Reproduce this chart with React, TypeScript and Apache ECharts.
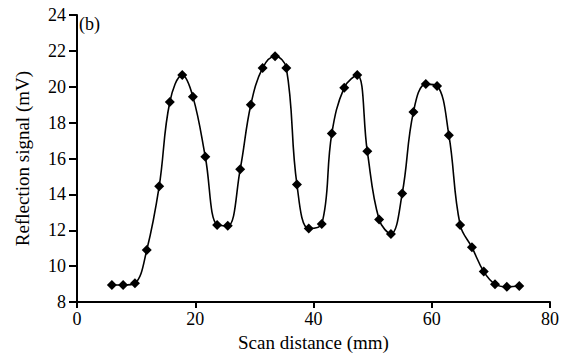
import React, { useEffect, useRef } from "react";
import * as echarts from "echarts";

const scanDistance = [5.9, 7.8, 9.8, 11.8, 13.9, 15.7, 17.8, 19.6, 21.7, 23.7, 25.5, 27.6, 29.4, 31.4, 33.5, 35.4, 37.2, 39.2, 41.4, 43.1, 45.2, 47.4, 49.1, 51.1, 53.1, 55.0, 56.9, 59.0, 60.9, 62.9, 64.8, 66.8, 68.8, 70.7, 72.7, 74.8];
const reflection = [8.95, 8.95, 9.05, 10.9, 14.45, 19.15, 20.65, 19.45, 16.1, 12.3, 12.25, 15.4, 19.0, 21.05, 21.7, 21.05, 14.55, 12.1, 12.35, 17.4, 19.95, 20.65, 16.4, 12.6, 11.8, 14.05, 18.6, 20.15, 20.05, 17.3, 12.3, 11.05, 9.7, 9.0, 8.85, 8.9];

const FONT = "'Liberation Serif', 'DejaVu Serif', serif";

export default function App() {
  const ref = useRef<HTMLDivElement>(null);
  useEffect(() => {
    if (!ref.current) return;
    const chart = echarts.init(ref.current, null, { renderer: "svg" });
    chart.setOption({
      animation: false,
      backgroundColor: "#fff",
      textStyle: { fontFamily: FONT, color: "#000" },
      grid: { left: 77, right: 15, top: 15, bottom: 53 },
      graphic: [
        { type: "text", left: 79, top: 15, style: { text: "(b)", fontFamily: FONT, fontSize: 18, fill: "#000" } },
      ],
      xAxis: {
        type: "value",
        min: 0,
        max: 80,
        interval: 20,
        name: "Scan distance (mm)",
        nameLocation: "middle",
        nameGap: 29,
        nameTextStyle: { fontFamily: FONT, fontSize: 19, color: "#000" },
        axisLine: { show: true, lineStyle: { color: "#000", width: 2 } },
        axisTick: { show: true, length: 6, lineStyle: { color: "#000", width: 2 } },
        axisLabel: { fontFamily: FONT, fontSize: 18, color: "#000", margin: 8 },
        splitLine: { show: false },
      },
      yAxis: {
        type: "value",
        min: 8,
        max: 24,
        interval: 2,
        name: "Reflection signal (mV)",
        nameLocation: "middle",
        nameGap: 45,
        nameTextStyle: { fontFamily: FONT, fontSize: 19, color: "#000" },
        axisLine: { show: true, lineStyle: { color: "#000", width: 2 } },
        axisTick: { show: true, length: 8, lineStyle: { color: "#000", width: 2 } },
        axisLabel: { fontFamily: FONT, fontSize: 18, color: "#000", margin: 11 },
        splitLine: { show: false },
      },
      series: [
        {
          type: "line",
          data: scanDistance.map((x, i) => [x, reflection[i]]),
          smooth: 0.4,
          symbol: "diamond",
          symbolSize: 10,
          lineStyle: { color: "#000", width: 1.6 },
          itemStyle: { color: "#000" },
        },
      ],
    });
    return () => chart.dispose();
  }, []);
  return <div ref={ref} style={{ position: "fixed", left: 0, top: 0, width: 565, height: 357 }} />;
}
